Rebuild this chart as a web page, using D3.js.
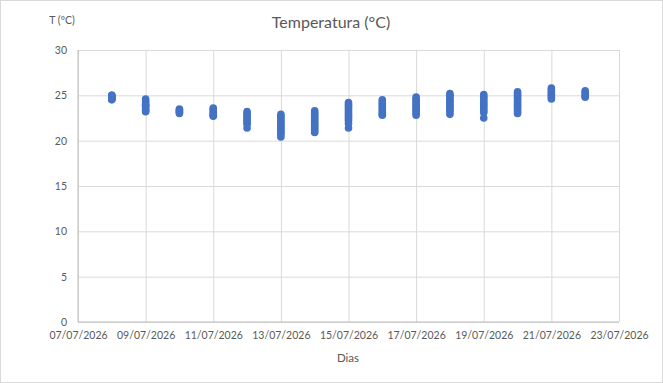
<html>
<head>
<script src="https://cdnjs.cloudflare.com/ajax/libs/d3/7.8.5/d3.min.js"></script>
<style>
  body { margin: 0; background: #fff; }
  text { font-family: Lato, "Open Sans", sans-serif; fill: #595959; }
</style>
</head>
<body>
<svg id="chart" width="663" height="383"></svg>
<script>
// days with readings
var dias = ["08/07/2026", "09/07/2026", "10/07/2026", "11/07/2026", "12/07/2026",
            "13/07/2026", "14/07/2026", "15/07/2026", "16/07/2026", "17/07/2026",
            "18/07/2026", "19/07/2026", "20/07/2026", "21/07/2026", "22/07/2026"];

// temperature readings for each day (same order as dias)
var leituras = [
  [25.0, 24.9, 24.8, 24.7, 24.6, 24.5, 24.6, 24.8, 25.0],
  [24.6, 24.4, 24.2, 24.0, 23.8, 23.6, 23.4, 23.2, 23.3, 23.9],
  [23.5, 23.4, 23.3, 23.2, 23.1, 23.0],
  [23.6, 23.5, 23.3, 23.1, 22.9, 22.7, 22.8],
  [23.2, 23.0, 22.8, 22.6, 22.4, 22.2, 22.0, 21.8, 21.4],
  [22.9, 22.7, 22.5, 22.3, 22.1, 21.9, 21.7, 21.5, 21.3, 21.1, 20.9, 20.7, 20.4],
  [23.3, 23.1, 22.9, 22.7, 22.5, 22.3, 22.1, 21.9, 21.7, 21.5, 21.3, 21.1, 20.9],
  [24.2, 24.0, 23.8, 23.6, 23.4, 23.2, 23.0, 22.8, 22.6, 22.4, 22.2, 21.9, 21.4],
  [24.5, 24.3, 24.1, 23.9, 23.7, 23.5, 23.3, 23.1, 22.9, 22.8],
  [24.8, 24.6, 24.4, 24.2, 24.0, 23.8, 23.6, 23.4, 23.2, 23.0, 22.8],
  [25.2, 25.0, 24.8, 24.6, 24.4, 24.2, 24.0, 23.8, 23.6, 23.4, 23.2, 22.9],
  [25.1, 24.9, 24.7, 24.5, 24.3, 24.1, 23.9, 23.7, 23.5, 23.3, 23.1, 22.5],
  [25.4, 25.2, 25.0, 24.8, 24.6, 24.4, 24.2, 24.0, 23.8, 23.6, 23.4, 23.2, 23.0],
  [25.8, 25.6, 25.4, 25.2, 25.0, 24.8, 24.6],
  [25.5, 25.3, 25.1, 24.9, 24.8]
];

var xTicks = ["07/07/2026", "09/07/2026", "11/07/2026", "13/07/2026", "15/07/2026",
              "17/07/2026", "19/07/2026", "21/07/2026", "23/07/2026"];
var yTicks = [0, 5, 10, 15, 20, 25, 30];

var parse = d3.timeParse("%d/%m/%Y");
var fmt = d3.timeFormat("%d/%m/%Y");

var pontos = [];
dias.forEach(function(d, i) {
  leituras[i].forEach(function(t) { pontos.push({ dia: parse(d), temp: t }); });
});

var svg = d3.select("#chart");
var pLeft = 78, pRight = 619, pTop = 50, pBottom = 322;

svg.append("rect")
  .attr("x", 0.5).attr("y", 0.5)
  .attr("width", 662).attr("height", 382)
  .attr("fill", "#fff").attr("stroke", "#d9d9d9");

var x = d3.scaleTime()
  .domain([parse(xTicks[0]), parse(xTicks[xTicks.length - 1])])
  .range([pLeft, pRight]);
var y = d3.scaleLinear().domain([0, 30]).range([pBottom, pTop]);

// horizontal grid + y labels
var yAxis = d3.axisLeft(y).tickValues(yTicks).tickSize(-(pRight - pLeft)).tickPadding(11);
var gy = svg.append("g").attr("transform", "translate(" + pLeft + ",0)").call(yAxis);
gy.select(".domain").remove();
gy.selectAll("line").attr("stroke", "#d9d9d9");
gy.selectAll("text").attr("font-size", 10.5).attr("fill", "#595959")
  .attr("font-family", "Lato, sans-serif");

// vertical grid + x labels
var xAxis = d3.axisBottom(x).tickValues(xTicks.map(parse)).tickFormat(fmt)
  .tickSize(-(pBottom - pTop)).tickPadding(10);
var gx = svg.append("g").attr("transform", "translate(0," + pBottom + ")").call(xAxis);
gx.select(".domain").remove();
gx.selectAll("line").attr("stroke", "#d9d9d9");
gx.selectAll("text").attr("font-size", 10.5).attr("fill", "#595959")
  .attr("font-family", "Lato, sans-serif");

// axis lines
svg.append("line").attr("x1", pLeft).attr("x2", pLeft).attr("y1", pTop).attr("y2", pBottom)
  .attr("stroke", "#bfbfbf");
svg.append("line").attr("x1", pLeft).attr("x2", pRight).attr("y1", pBottom).attr("y2", pBottom)
  .attr("stroke", "#bfbfbf");

// points
svg.append("g").selectAll("circle")
  .data(pontos)
  .enter()
  .append("circle")
  .attr("cx", d => x(d.dia))
  .attr("cy", d => y(d.temp))
  .attr("r", 3.8)
  .attr("fill", "#4472c4");

svg.append("text").attr("x", 331).attr("y", 28).attr("text-anchor", "middle")
  .attr("font-size", 16).text("Temperatura (°C)");
svg.append("text").attr("x", 62).attr("y", 24).attr("text-anchor", "middle")
  .attr("font-size", 10.5).text("T (ºC)");
svg.append("text").attr("x", 348).attr("y", 362).attr("text-anchor", "middle")
  .attr("font-size", 11.5).text("Dias");
</script>
</body>
</html>
